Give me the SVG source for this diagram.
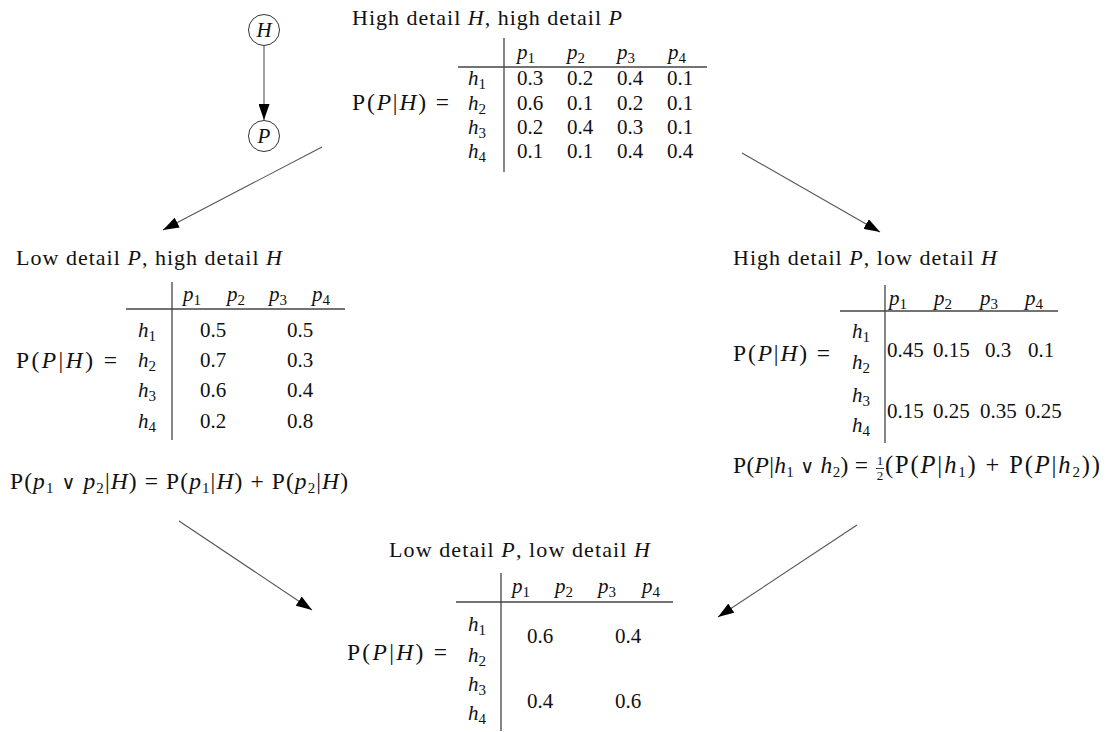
<svg xmlns="http://www.w3.org/2000/svg" width="1107" height="732" viewBox="0 0 1107 732">
<style>
text{font-family:"Liberation Serif","Times New Roman",serif;font-size:21px;fill:#111}
.t{font-size:22px}
.eq{font-size:23.5px}
.f{font-size:23.5px}
.f2{font-size:24.5px}
.i{font-style:italic}
.s{font-size:15px;font-style:normal}
.or{font-family:"DejaVu Sans",sans-serif;font-size:19px;font-style:normal;font-weight:normal}
.rule{stroke:#444;stroke-width:1.3;fill:none}
.conn{stroke:#555;stroke-width:1.1;fill:none}
.node{fill:#fff;stroke:#333;stroke-width:1}
</style>
<defs>
<marker id="arr" viewBox="0 0 16 11" refX="16" refY="5.5" markerWidth="16" markerHeight="11" markerUnits="userSpaceOnUse" orient="auto">
<path d="M0,0 L16,5.5 L0,11 Z" fill="#000"/>
</marker>
</defs>
<rect width="1107" height="732" fill="#fff"/>

<g id="connectors">
<line class="conn" x1="264" y1="46" x2="264" y2="120" marker-end="url(#arr)" stroke="#000"/>
<line class="conn" x1="322" y1="147" x2="163" y2="230" marker-end="url(#arr)"/>
<line class="conn" x1="742" y1="153" x2="880" y2="232" marker-end="url(#arr)"/>
<line class="conn" x1="179" y1="521" x2="312" y2="610" marker-end="url(#arr)"/>
<line class="conn" x1="857" y1="525" x2="718" y2="617" marker-end="url(#arr)"/>
</g>

<g id="node-H">
<circle class="node" cx="264" cy="30" r="15.5"/>
<text x="264" y="37" text-anchor="middle" class="i">H</text>
</g>
<g id="node-P">
<circle class="node" cx="264" cy="136" r="15.5"/>
<text x="264" y="143" text-anchor="middle" class="i">P</text>
</g>

<g id="table-high-H-high-P">
<text class="t" x="352" y="25" textLength="270">High detail <tspan class="i">H</tspan>, high detail <tspan class="i">P</tspan></text>
<line class="rule" x1="504" y1="38" x2="504" y2="172"/>
<line class="rule" x1="458" y1="67" x2="707" y2="67"/>
<text x="517" y="59"><tspan class="i">p</tspan><tspan class="s" dy="4">1</tspan></text>
<text x="567" y="59"><tspan class="i">p</tspan><tspan class="s" dy="4">2</tspan></text>
<text x="617" y="59"><tspan class="i">p</tspan><tspan class="s" dy="4">3</tspan></text>
<text x="668" y="59"><tspan class="i">p</tspan><tspan class="s" dy="4">4</tspan></text>
<text class="eq" x="352" y="110" textLength="97">P(<tspan class="i">P</tspan>|<tspan class="i">H</tspan>) =</text>
<text x="468" y="85"><tspan class="i">h</tspan><tspan class="s" dy="4">1</tspan></text>
<text x="468" y="110"><tspan class="i">h</tspan><tspan class="s" dy="4">2</tspan></text>
<text x="468" y="134"><tspan class="i">h</tspan><tspan class="s" dy="4">3</tspan></text>
<text x="468" y="158"><tspan class="i">h</tspan><tspan class="s" dy="4">4</tspan></text>
<text x="517" y="85">0.3</text><text x="567" y="85">0.2</text><text x="617" y="85">0.4</text><text x="667" y="85">0.1</text>
<text x="517" y="110">0.6</text><text x="567" y="110">0.1</text><text x="617" y="110">0.2</text><text x="667" y="110">0.1</text>
<text x="517" y="134">0.2</text><text x="567" y="134">0.4</text><text x="617" y="134">0.3</text><text x="667" y="134">0.1</text>
<text x="517" y="158">0.1</text><text x="567" y="158">0.1</text><text x="617" y="158">0.4</text><text x="667" y="158">0.4</text>
</g>

<g id="table-low-P-high-H">
<text class="t" x="16" y="265" textLength="266">Low detail <tspan class="i">P</tspan>, high detail <tspan class="i">H</tspan></text>
<line class="rule" x1="172" y1="282" x2="172" y2="440"/>
<line class="rule" x1="126" y1="309" x2="345" y2="309"/>
<text x="183" y="301"><tspan class="i">p</tspan><tspan class="s" dy="4">1</tspan></text>
<text x="227" y="301"><tspan class="i">p</tspan><tspan class="s" dy="4">2</tspan></text>
<text x="269" y="301"><tspan class="i">p</tspan><tspan class="s" dy="4">3</tspan></text>
<text x="312" y="301"><tspan class="i">p</tspan><tspan class="s" dy="4">4</tspan></text>
<text class="eq" x="16" y="368" textLength="101">P(<tspan class="i">P</tspan>|<tspan class="i">H</tspan>) =</text>
<text x="138" y="337"><tspan class="i">h</tspan><tspan class="s" dy="4">1</tspan></text>
<text x="138" y="367"><tspan class="i">h</tspan><tspan class="s" dy="4">2</tspan></text>
<text x="138" y="397"><tspan class="i">h</tspan><tspan class="s" dy="4">3</tspan></text>
<text x="138" y="428"><tspan class="i">h</tspan><tspan class="s" dy="4">4</tspan></text>
<text x="200" y="337">0.5</text><text x="287" y="337">0.5</text>
<text x="200" y="367">0.7</text><text x="287" y="367">0.3</text>
<text x="200" y="397">0.6</text><text x="287" y="397">0.4</text>
<text x="200" y="428">0.2</text><text x="287" y="428">0.8</text>
<text class="f" x="10" y="489" textLength="338">P(<tspan class="i">p</tspan><tspan class="s" dy="4">1</tspan><tspan dy="-4"> </tspan><tspan class="or">∨</tspan> <tspan class="i">p</tspan><tspan class="s" dy="4">2</tspan><tspan dy="-4">|</tspan><tspan class="i">H</tspan>) = P(<tspan class="i">p</tspan><tspan class="s" dy="4">1</tspan><tspan dy="-4">|</tspan><tspan class="i">H</tspan>) + P(<tspan class="i">p</tspan><tspan class="s" dy="4">2</tspan><tspan dy="-4">|</tspan><tspan class="i">H</tspan>)</text>
</g>

<g id="table-high-P-low-H">
<text class="t" x="733" y="265" textLength="264">High detail <tspan class="i">P</tspan>, low detail <tspan class="i">H</tspan></text>
<line class="rule" x1="885" y1="285" x2="885" y2="443"/>
<line class="rule" x1="840" y1="311" x2="1058" y2="311"/>
<text x="889" y="305"><tspan class="i">p</tspan><tspan class="s" dy="4">1</tspan></text>
<text x="934" y="305"><tspan class="i">p</tspan><tspan class="s" dy="4">2</tspan></text>
<text x="980" y="305"><tspan class="i">p</tspan><tspan class="s" dy="4">3</tspan></text>
<text x="1025" y="305"><tspan class="i">p</tspan><tspan class="s" dy="4">4</tspan></text>
<text class="eq" x="733" y="361" textLength="97">P(<tspan class="i">P</tspan>|<tspan class="i">H</tspan>) =</text>
<text x="852" y="338"><tspan class="i">h</tspan><tspan class="s" dy="4">1</tspan></text>
<text x="852" y="369"><tspan class="i">h</tspan><tspan class="s" dy="4">2</tspan></text>
<text x="852" y="402"><tspan class="i">h</tspan><tspan class="s" dy="4">3</tspan></text>
<text x="852" y="432"><tspan class="i">h</tspan><tspan class="s" dy="4">4</tspan></text>
<text x="887" y="357">0.45</text><text x="933" y="357">0.15</text><text x="985" y="357">0.3</text><text x="1028" y="357">0.1</text>
<text x="887" y="418">0.15</text><text x="933" y="418">0.25</text><text x="980" y="418">0.35</text><text x="1025" y="418">0.25</text>
<text class="f" x="733" y="473" textLength="135">P(<tspan class="i">P</tspan>|<tspan class="i">h</tspan><tspan class="s" dy="4">1</tspan><tspan dy="-4"> </tspan><tspan class="or">∨</tspan> <tspan class="i">h</tspan><tspan class="s" dy="4">2</tspan><tspan dy="-4">) =</tspan></text>
<text x="880" y="465" text-anchor="middle" style="font-size:13px">1</text>
<line x1="876" y1="468.5" x2="884" y2="468.5" stroke="#111" stroke-width="0.8"/>
<text x="880" y="480" text-anchor="middle" style="font-size:13px">2</text>
<text class="f2" x="885" y="473" textLength="215">(P(<tspan class="i">P</tspan>|<tspan class="i">h</tspan><tspan class="s" dy="4">1</tspan><tspan dy="-4">) + P(</tspan><tspan class="i">P</tspan>|<tspan class="i">h</tspan><tspan class="s" dy="4">2</tspan><tspan dy="-4">))</tspan></text>
</g>

<g id="table-low-P-low-H">
<text class="t" x="389" y="557" textLength="261">Low detail <tspan class="i">P</tspan>, low detail <tspan class="i">H</tspan></text>
<line class="rule" x1="501" y1="573" x2="501" y2="731"/>
<line class="rule" x1="456" y1="602" x2="673" y2="602"/>
<text x="512" y="593"><tspan class="i">p</tspan><tspan class="s" dy="4">1</tspan></text>
<text x="555" y="593"><tspan class="i">p</tspan><tspan class="s" dy="4">2</tspan></text>
<text x="598" y="593"><tspan class="i">p</tspan><tspan class="s" dy="4">3</tspan></text>
<text x="642" y="593"><tspan class="i">p</tspan><tspan class="s" dy="4">4</tspan></text>
<text class="eq" x="347" y="660" textLength="100">P(<tspan class="i">P</tspan>|<tspan class="i">H</tspan>) =</text>
<text x="468" y="631"><tspan class="i">h</tspan><tspan class="s" dy="4">1</tspan></text>
<text x="468" y="662"><tspan class="i">h</tspan><tspan class="s" dy="4">2</tspan></text>
<text x="468" y="691"><tspan class="i">h</tspan><tspan class="s" dy="4">3</tspan></text>
<text x="468" y="720"><tspan class="i">h</tspan><tspan class="s" dy="4">4</tspan></text>
<text x="527" y="643">0.6</text><text x="615" y="643">0.4</text>
<text x="527" y="708">0.4</text><text x="615" y="708">0.6</text>
</g>
</svg>
